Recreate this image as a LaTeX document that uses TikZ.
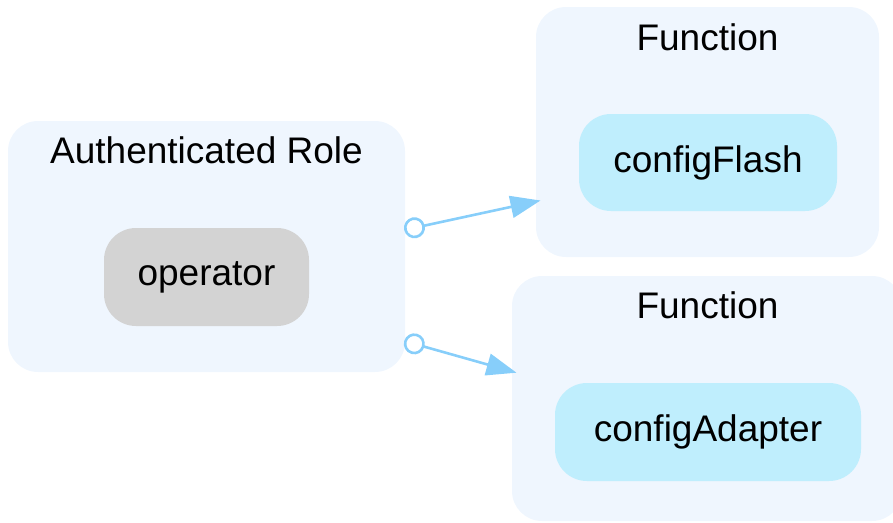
\documentclass[tikz,border=0pt]{standalone}
\usepackage{tikz}
\usepackage{xcolor}
\usepackage{fontspec}
\setmainfont{Liberation Sans}
\usetikzlibrary{calc}
\usetikzlibrary{shapes}
\usetikzlibrary{arrows.meta}

\definecolor{clusterbg}{HTML}{EFF6FE}
\definecolor{rolegray}{HTML}{D3D3D3}
\definecolor{fnblue}{HTML}{BFEEFD}
\definecolor{edgeblue}{HTML}{87CEFA}

\begin{document}
\begin{tikzpicture}
[x=1pt,y=-1pt,
 cluster/.style={rectangle,rounded corners=30pt,fill=clusterbg,inner sep=0pt},
 item/.style={rectangle,rounded corners=32pt,inner sep=0pt,font=\fontsize{37}{44}\selectfont},
 title/.style={anchor=base,inner sep=0pt,font=\fontsize{37}{44}\selectfont},
 link/.style={edgeblue,line width=2.6pt,{Circle[open,length=21pt,width=21pt]}-{Triangle[length=30pt,width=22pt]}}]

\useasboundingbox (0,0) rectangle (893,522);
\clip (0,0) rectangle (893,522);

\node (role) [cluster,minimum width=397pt,minimum height=251pt] at (206.5,246.5) {}; %role box
\node (fn1) [cluster,minimum width=343pt,minimum height=250pt] at (707.5,132) {}; %top function
\node (fn2) [cluster,minimum width=390pt,minimum height=245pt] at (707,398.5) {}; %bottom function

\node (roletitle) [title] at (206.5,163) {Authenticated Role};
\node (fn1title) [title] at (707.5,50) {Function};
\node (fn2title) [title] at (707.5,318) {Function};

\node (operator) [item,fill=rolegray,minimum width=205pt,minimum height=98pt] at (206.5,277) {operator};
\node (flash) [item,fill=fnblue,minimum width=258pt,minimum height=97pt] at (708,162.5) {configFlash};
\node (adapter) [item,fill=fnblue,minimum width=306pt,minimum height=98pt] at (708,432) {configAdapter};

\draw[link] ($(role.east)+(-1,-16.5)$) -- ($(fn1.west)+(4.7,68.5)$);
\draw[link] ($(role.east)+(-1,94.5)$) -- ($(fn2.west)+(4.7,-25.8)$);

\end{tikzpicture}
\end{document}
